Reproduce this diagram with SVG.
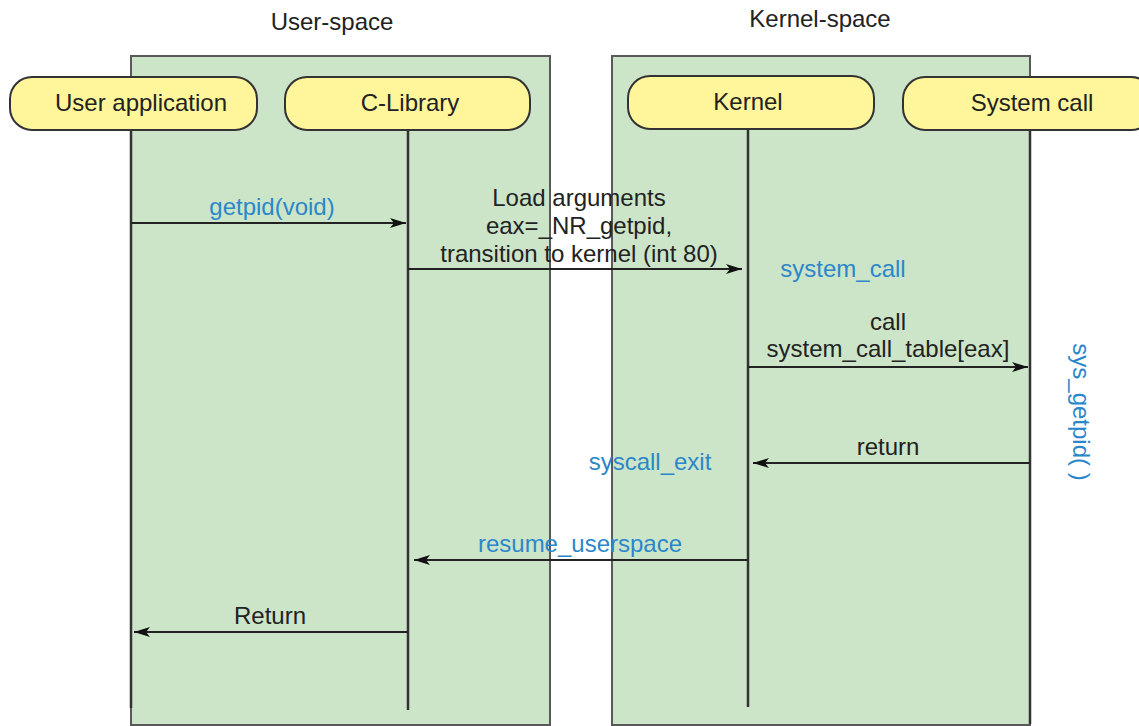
<svg xmlns="http://www.w3.org/2000/svg" width="1139" height="726" viewBox="0 0 1139 726">
<style>
.panel{fill:#cce5c8;stroke:#595959;stroke-width:2}
.node rect{fill:#fff59a;stroke:#333;stroke-width:2}
.t{font-family:"Liberation Sans",Arial,sans-serif;font-size:24px;fill:#222;text-anchor:middle}
.b{fill:#2b87c9}
.life{stroke:#333;stroke-width:2.5;fill:none}
.msg{stroke:#222;stroke-width:2;fill:none}
</style>
<defs>
<marker id="ah" markerUnits="userSpaceOnUse" markerWidth="18" markerHeight="12" refX="16" refY="6" orient="auto">
<path d="M0,1 L16,6 L0,11 L4,6 Z" fill="#111"/>
</marker>
</defs>
<rect width="1139" height="726" fill="#fff"/>
<g id="panels">
<rect class="panel" x="131" y="56" width="419" height="669"/>
<rect class="panel" x="612" y="56" width="418" height="669"/>
<text class="t" x="332" y="30" fill="#333">User-space</text>
<text class="t" x="820" y="27" fill="#333">Kernel-space</text>
</g>
<g id="lifelines">
<line class="life" x1="131" y1="130" x2="131" y2="708"/>
<line class="life" x1="408" y1="130" x2="408" y2="710"/>
<line class="life" x1="748" y1="128" x2="748" y2="707"/>
<line class="life" x1="1030" y1="130" x2="1030" y2="724"/>
</g>
<g id="node-user-application" class="node">
<rect x="10" y="77" width="247" height="53" rx="22"/>
<text class="t" x="141" y="111">User application</text>
</g>
<g id="node-c-library" class="node">
<rect x="285" y="77" width="245" height="53" rx="22"/>
<text class="t" x="410" y="111">C-Library</text>
</g>
<g id="node-kernel" class="node">
<rect x="628" y="76" width="246" height="53" rx="22"/>
<text class="t" x="748" y="110">Kernel</text>
</g>
<g id="node-system-call" class="node">
<rect x="903" y="77" width="250" height="53" rx="22"/>
<text class="t" x="1032" y="111">System call</text>
</g>
<g id="connectors">
<line class="msg" x1="131" y1="223" x2="406" y2="223" marker-end="url(#ah)"/>
<line class="msg" x1="408" y1="269" x2="742" y2="269" marker-end="url(#ah)"/>
<line class="msg" x1="748" y1="367" x2="1028" y2="367" marker-end="url(#ah)"/>
<line class="msg" x1="1030" y1="463" x2="753" y2="463" marker-end="url(#ah)"/>
<line class="msg" x1="748" y1="560" x2="414" y2="560" marker-end="url(#ah)"/>
<line class="msg" x1="408" y1="632" x2="134" y2="632" marker-end="url(#ah)"/>
</g>
<g id="labels">
<text class="t b" x="272" y="215">getpid(void)</text>
<text class="t" x="579" y="206">Load arguments</text>
<text class="t" x="579" y="234">eax=_NR_getpid,</text>
<text class="t" x="579" y="262">transition to kernel (int 80)</text>
<text class="t b" x="843" y="277">system_call</text>
<text class="t" x="888" y="330">call</text>
<text class="t" x="888" y="357">system_call_table[eax]</text>
<text class="t b" transform="translate(1081 412) rotate(90)" y="8">sys_getpid( )</text>
<text class="t" x="888" y="455">return</text>
<text class="t b" x="650" y="470">syscall_exit</text>
<text class="t b" x="580" y="552">resume_userspace</text>
<text class="t" x="270" y="624">Return</text>
</g>
</svg>
